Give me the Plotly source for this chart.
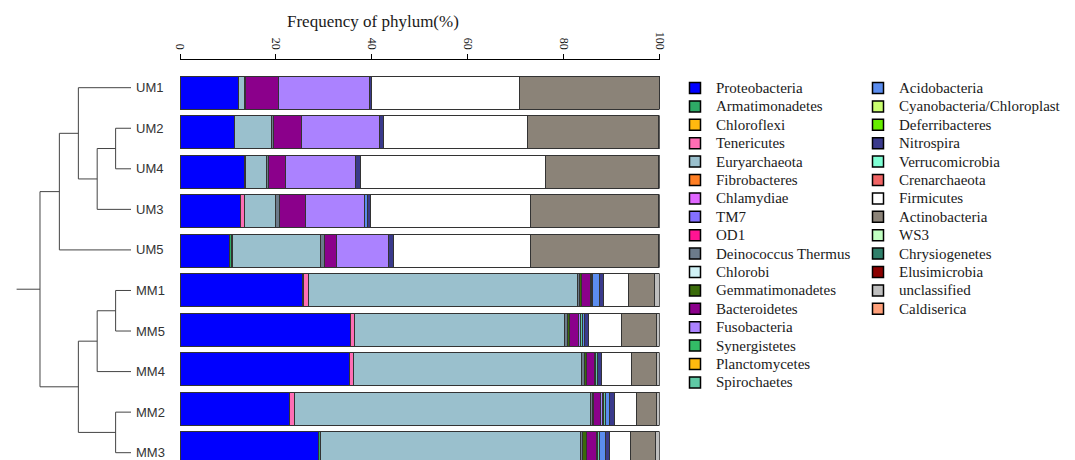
import plotly.graph_objects as go

W, H = 1075, 460

samples = ["UM1", "UM2", "UM4", "UM3", "UM5", "MM1", "MM5", "MM4", "MM2", "MM3"]

phyla = ["Proteobacteria", "Armatimonadetes", "Chloroflexi", "Tenericutes", "Euryarchaeota",
         "Fibrobacteres", "Chlamydiae", "TM7", "OD1", "Deinococcus Thermus", "Chlorobi",
         "Gemmatimonadetes", "Bacteroidetes", "Fusobacteria", "Synergistetes", "Planctomycetes",
         "Spirochaetes", "Acidobacteria", "Cyanobacteria/Chloroplast", "Deferribacteres",
         "Nitrospira", "Verrucomicrobia", "Crenarchaeota", "Firmicutes", "Actinobacteria",
         "WS3", "Chrysiogenetes", "Elusimicrobia", "unclassified", "Caldiserica"]

phylum_colors = ["#0000FF", "#2EAA66", "#FFB90F", "#FF6EB4", "#9AC0CD",
                 "#FF7F24", "#E066FF", "#8470FF", "#FF1493", "#6C7B8B", "#D1F2F6",
                 "#3A6B0A", "#8B008B", "#AB82FF", "#33BB66", "#FFB90F",
                 "#5FC9A5", "#5B8DEF", "#CAFF70", "#66EE00",
                 "#3A3A8C", "#7FFFD4", "#F06464", "#FFFFFF", "#8B8378",
                 "#C1FFC1", "#2F7F6A", "#8B0000", "#BEBEBE", "#FFA07A"]

# relative abundance (%) per phylum, in sample order above
proteobacteria   = [12.2, 11.3, 13.4, 12.7, 10.4, 25.6, 35.5, 35.3, 22.8, 28.9]
armatimonadetes  = [0, 0, 0, 0, 0.3, 0.1, 0, 0, 0, 0.3]
chloroflexi      = [0, 0, 0, 0, 0.2, 0.1, 0, 0, 0, 0.2]
tenericutes      = [0, 0, 0.3, 0.7, 0, 0.9, 0.9, 0.9, 1.0, 0]
euryarchaeota    = [1.2, 7.8, 4.3, 6.6, 18.5, 56.1, 43.8, 47.6, 61.8, 54.1]
fibrobacteres    = [0] * 10
chlamydiae       = [0] * 10
tm7              = [0] * 10
od1              = [0] * 10
deinococcus      = [0.3, 0.4, 0.4, 0.7, 0.7, 0.5, 0.6, 0.5, 0.4, 0.5]
chlorobi         = [0] * 10
gemmatimonadetes = [0, 0, 0, 0, 0, 0.4, 0.5, 0.5, 0.3, 0.8]
bacteroidetes    = [6.9, 5.8, 3.7, 5.4, 2.5, 1.9, 1.9, 1.6, 1.4, 2.0]
fusobacteria     = [18.9, 16.3, 14.6, 12.3, 10.9, 0.3, 0.4, 0.3, 0.5, 0.3]
synergistetes    = [0, 0, 0, 0, 0, 0, 0, 0, 0.2, 0]
planctomycetes   = [0] * 10
spirochaetes     = [0, 0, 0, 0, 0, 0.2, 0.3, 0.3, 0.3, 0.4]
acidobacteria    = [0, 0, 0, 0.6, 0, 1.4, 0.4, 0, 0.9, 1.2]
cyanobacteria    = [0] * 10
deferribacteres  = [0] * 10
nitrospira       = [0.4, 0.8, 0.9, 0.8, 1.0, 0.9, 0.9, 1.0, 1.1, 0.9]
verrucomicrobia  = [0] * 10
crenarchaeota    = [0] * 10
firmicutes       = [30.9, 30.1, 38.7, 33.2, 28.6, 5.1, 6.9, 6.2, 4.4, 4.4]
actinobacteria   = [29.2, 27.2, 23.4, 26.7, 26.7, 5.5, 7.3, 5.2, 4.3, 5.2]
ws3              = [0] * 10
chrysiogenetes   = [0] * 10
elusimicrobia    = [0] * 10
unclassified     = [0, 0.3, 0.3, 0.3, 0.2, 1.0, 0.6, 0.6, 0.6, 0.8]
caldiserica      = [0] * 10

values = [proteobacteria, armatimonadetes, chloroflexi, tenericutes, euryarchaeota,
          fibrobacteres, chlamydiae, tm7, od1, deinococcus, chlorobi, gemmatimonadetes,
          bacteroidetes, fusobacteria, synergistetes, planctomycetes, spirochaetes,
          acidobacteria, cyanobacteria, deferribacteres, nitrospira, verrucomicrobia,
          crenarchaeota, firmicutes, actinobacteria, ws3, chrysiogenetes, elusimicrobia,
          unclassified, caldiserica]

# clustering tree: (height, left, right)
tree = (4.79,
        (3.77, (2.77, "UM1", (1.78, (0.81, "UM2", "UM4"), "UM3")), "UM5"),
        (2.77, (1.78, (0.81, "MM1", "MM5"), "MM4"), (0.81, "MM2", "MM3")))
root_stub = 6.02

tick_vals = [0, 20, 40, 60, 80, 100]

serif = "Liberation Serif, Times New Roman, serif"
sans = "Liberation Sans, Arial, sans-serif"

fig = go.Figure()

# ---- stacked bars ----
for name, col, vals in zip(phyla, phylum_colors, values):
    fig.add_trace(go.Bar(
        x=vals, y=samples, orientation="h", name=name,
        marker=dict(color=col, line=dict(color="#333333", width=1)),
        width=0.835, showlegend=False, xaxis="x", yaxis="y"))

# ---- dendrogram ----
dx, dy = [], []
leaf_pos = {s: i for i, s in enumerate(samples)}


def walk(node):
    if isinstance(node, str):
        return leaf_pos[node], 0.0
    h, left, right = node
    yl, hl = walk(left)
    yr, hr = walk(right)
    dx.extend([hl, h, None, hr, h, None, h, h, None])
    dy.extend([yl, yl, None, yr, yr, None, yl, yr, None])
    return (yl + yr) / 2.0, h


ry, rh = walk(tree)
dx.extend([rh, root_stub, None])
dy.extend([ry, ry, None])

fig.add_trace(go.Scatter(x=dx, y=dy, mode="lines", line=dict(color="#444444", width=1),
                         showlegend=False, hoverinfo="skip", xaxis="x2", yaxis="y2"))

# ---- legend (two columns) ----
n1 = 17
leg_x, leg_y, leg_c = [], [], []
col_x = [695, 878]
txt_x = [714, 897]
annotations = []
for i, (name, col) in enumerate(zip(phyla, phylum_colors)):
    c = 0 if i < n1 else 1
    r = i if i < n1 else i - n1
    leg_x.append(col_x[c])
    leg_y.append(r)
    leg_c.append(col)
    annotations.append(dict(x=txt_x[c], y=r, xref="x3", yref="y3", text=name,
                            showarrow=False, xanchor="left", yanchor="middle",
                            font=dict(family=serif, size=15, color="#1a1a1a")))

fig.add_trace(go.Scatter(x=leg_x, y=leg_y, mode="markers",
                         marker=dict(symbol="square", size=11, color=leg_c,
                                     line=dict(color="#000000", width=1.5)),
                         showlegend=False, hoverinfo="skip", xaxis="x3", yaxis="y3"))

T = 60  # top margin in px
annotations.append(dict(x=372.5 / W, y=1 + (T - 21) / (H - T), xref="paper", yref="paper",
                        text="Frequency of phylum(%)", showarrow=False,
                        xanchor="center", yanchor="middle",
                        font=dict(family=serif, size=17, color="#1a1a1a")))

row_h = 18.4
row0 = 88.0
fig.update_layout(
    template="none",
    width=W, height=H, autosize=False,
    margin=dict(l=0, r=0, t=T, b=0, pad=0, autoexpand=False),
    paper_bgcolor="white", plot_bgcolor="rgba(0,0,0,0)",
    barmode="stack", showlegend=False,
    xaxis=dict(domain=[180 / W, 659.5 / W], range=[0, 100], side="top", anchor="y",
               tickvals=tick_vals, ticks="outside", ticklen=5, tickcolor="#000",
               tickwidth=1, showline=True, linecolor="#000", linewidth=1,
               showgrid=False, zeroline=False, tickangle=90, automargin=False,
               tickfont=dict(family=serif, size=12, color="#1a1a1a")),
    yaxis=dict(domain=[0, 1], anchor="x", range=[9.30, -0.823], visible=False,
               automargin=False),
    xaxis2=dict(domain=[0, 131 / W], range=[131 / 19, 0], anchor="y2", visible=False,
                automargin=False),
    yaxis2=dict(domain=[0, 1], anchor="x2", range=[9.18, -0.683], side="right",
                tickvals=list(range(len(samples))), ticktext=samples, ticks="",
                showline=False, showgrid=False, zeroline=False, ticklabelstandoff=4,
                ticklabeloverflow="allow", automargin=False,
                tickfont=dict(family=sans, size=13, color="#333333")),
    xaxis3=dict(domain=[0, 1], range=[0, W], anchor="y3", visible=False, automargin=False),
    yaxis3=dict(domain=[0, 1], range=[(H - row0) / row_h, -(row0 - T) / row_h],
                anchor="x3", visible=False, automargin=False),
    annotations=annotations,
)

fig.write_html("out.html")
